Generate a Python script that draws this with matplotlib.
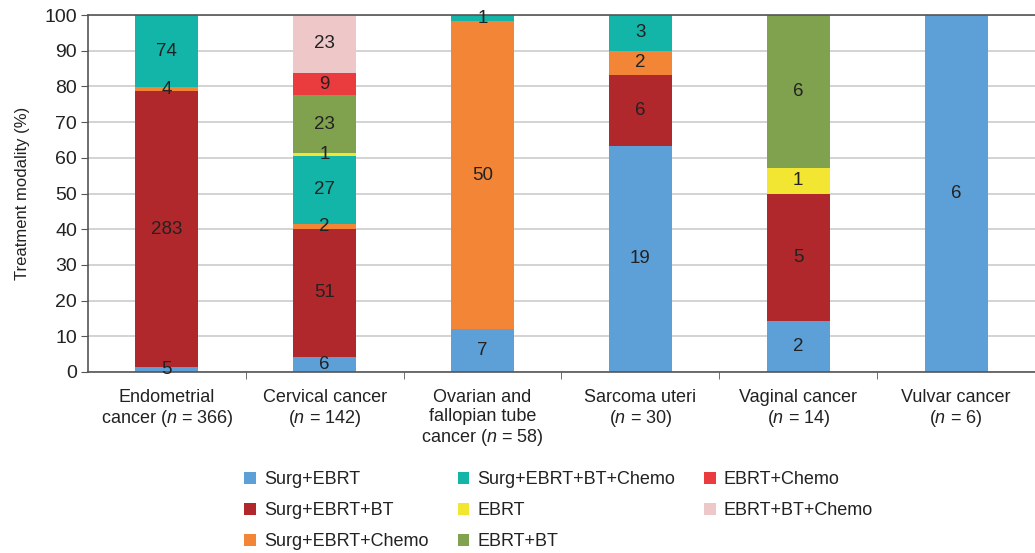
import matplotlib
matplotlib.use("Agg")
import matplotlib.pyplot as plt
import numpy as np

plt.rcParams['font.family'] = ['Liberation Sans', 'DejaVu Sans']
plt.rcParams['mathtext.fontset'] = 'custom'
plt.rcParams['mathtext.rm'] = 'Liberation Sans'
plt.rcParams['mathtext.it'] = 'Liberation Sans:italic'

categories = ["Endometrial\ncancer ($n$ = 366)", "Cervical cancer\n($n$ = 142)",
              "Ovarian and\nfallopian tube\ncancer ($n$ = 58)", "Sarcoma uteri\n($n$ = 30)",
              "Vaginal cancer\n($n$ = 14)", "Vulvar cancer\n($n$ = 6)"]
totals = [366, 142, 58, 30, 14, 6]
series_names = ["Surg+EBRT", "Surg+EBRT+BT", "Surg+EBRT+Chemo", "Surg+EBRT+BT+Chemo",
                "EBRT", "EBRT+BT", "EBRT+Chemo", "EBRT+BT+Chemo"]
surg_ebrt = [5, 6, 7, 19, 2, 6]
surg_ebrt_bt = [283, 51, 0, 6, 5, 0]
surg_ebrt_chemo = [4, 2, 50, 2, 0, 0]
surg_ebrt_bt_chemo = [74, 27, 1, 3, 0, 0]
ebrt = [0, 1, 0, 0, 1, 0]
ebrt_bt = [0, 23, 0, 0, 6, 0]
ebrt_chemo = [0, 9, 0, 0, 0, 0]
ebrt_bt_chemo = [0, 23, 0, 0, 0, 0]
series = [surg_ebrt, surg_ebrt_bt, surg_ebrt_chemo, surg_ebrt_bt_chemo,
          ebrt, ebrt_bt, ebrt_chemo, ebrt_bt_chemo]
colors = ["#5DA0D8", "#B0282B", "#F28636", "#12B5A8", "#F2E633", "#80A24F", "#EA3B3E", "#EEC8C9"]

fig = plt.figure(figsize=(10.35, 5.53), dpi=100)
ax = fig.add_axes([88/1035, 1-372/553, (1035-88)/1035, (372-15)/553])

x = np.arange(len(categories))
bottom = np.zeros(len(categories))
tot = np.array(totals, dtype=float)
for name, vals, c in zip(series_names, series, colors):
    v = np.array(vals, dtype=float)
    pct = v / tot * 100
    ax.bar(x, pct, 0.4, bottom=bottom, color=c, label=name, zorder=2)
    for i in range(len(x)):
        if v[i] > 0:
            ax.text(x[i], bottom[i] + pct[i] / 2, f"{int(v[i])}", ha='center', va='center',
                    fontsize=13.5, color='#222222', zorder=3)
    bottom += pct

ax.set_xlim(-0.5, len(categories) - 0.5)
ax.set_ylim(0, 100)
ax.set_yticks(np.arange(0, 101, 10))
ax.yaxis.grid(True, color='#cccccc', linewidth=1.2, zorder=0)
ax.set_axisbelow(True)
ax.set_xticks(x)
ax.set_xticklabels(categories, fontsize=13, color='#222222', linespacing=1.17)
ax.tick_params(axis='x', length=0, pad=12)
ax.set_xticks(np.arange(0.5, len(categories) - 0.5, 1), minor=True)
ax.tick_params(axis='x', which='minor', length=5, direction='out', color='#555555')
ax.tick_params(axis='y', labelsize=14, labelcolor='#222222', length=5, color='#555555', pad=3)
ax.spines['right'].set_visible(False)
for s in ['left', 'bottom', 'top']:
    ax.spines[s].set_color('#555555')
    ax.spines[s].set_linewidth(1.2)
ax.set_ylabel("Treatment modality (%)", fontsize=12, color='#222222', labelpad=10)

leg = fig.legend(loc='upper left', bbox_to_anchor=(228/1035, 1-455/553), ncol=3, frameon=False,
                 fontsize=13, handlelength=0.65, handleheight=0.65, handletextpad=0.45,
                 columnspacing=1.6, labelspacing=0.78)
plt.setp(leg.get_texts(), color='#222222')

fig.savefig("out.png", dpi=100)
